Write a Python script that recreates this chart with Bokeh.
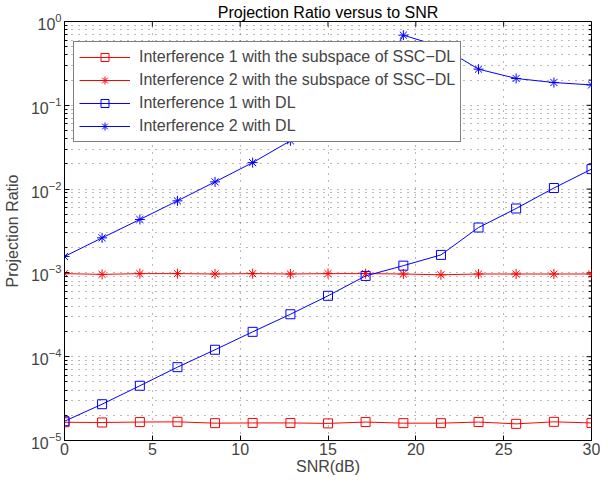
import math
from bokeh.plotting import figure
from bokeh.models import Range1d, Legend, LegendItem, FixedTicker
from bokeh.embed import file_html
from bokeh.resources import INLINE

# ---- data ----
snr = [0, 2.14, 4.29, 6.43, 8.57, 10.71, 12.86, 15, 17.14, 19.29, 21.43, 23.57, 25.71, 27.86, 30]
i1_ssc = [1.65e-5, 1.64e-5, 1.66e-5, 1.67e-5, 1.61e-5, 1.62e-5, 1.62e-5, 1.60e-5,
          1.66e-5, 1.61e-5, 1.61e-5, 1.66e-5, 1.58e-5, 1.67e-5, 1.62e-5]
i2_ssc = [9.8e-4, 9.6e-4, 9.8e-4, 9.8e-4, 9.7e-4, 9.8e-4, 9.7e-4, 9.8e-4,
          9.8e-4, 9.7e-4, 9.5e-4, 9.7e-4, 9.7e-4, 9.7e-4, 9.7e-4]
i1_dl = [1.7e-5, 2.71e-5, 4.5e-5, 7.5e-5, 1.21e-4, 1.98e-4, 3.21e-4, 5.33e-4,
         9.2e-4, 1.22e-3, 1.64e-3, 3.48e-3, 5.87e-3, 1.03e-2, 1.73e-2]
i2_dl = [1.57e-3, 2.62e-3, 4.34e-3, 7.24e-3, 1.22e-2, 2.07e-2, 3.77e-2, 6.7e-2,
         1.2e-1, 6.87e-1, 5.0e-1, 2.7e-1, 2.09e-1, 1.87e-1, 1.75e-1]
labels = ["Interference 1 with the subspace of SSC\u2212DL",
          "Interference 2 with the subspace of SSC\u2212DL",
          "Interference 1 with DL",
          "Interference 2 with DL"]
x_ticks = [0, 5, 10, 15, 20, 25, 30]
y_ticks = [1e-5, 1e-4, 1e-3, 1e-2, 1e-1, 1]
y_minor = [m * t for t in y_ticks[:-1] for m in range(2, 10)]
X_MIN, X_MAX = 0, 30
Y_MIN, Y_MAX = 1e-5, 1

FONT = "Liberation Sans"
FS = "16px"

p = figure(width=600, height=479, x_range=Range1d(X_MIN, X_MAX), y_range=Range1d(Y_MIN, Y_MAX),
           y_axis_type="log", output_backend="svg", toolbar_location=None,
           min_border_left=59, min_border_right=9, min_border_top=21, min_border_bottom=39,
           background_fill_color="white", border_fill_color="white")

p.title.text = "Projection Ratio versus to SNR"
p.title.align = "center"
p.title.text_font = FONT
p.title.text_font_size = FS
p.title.text_font_style = "normal"
p.title.text_color = "black"
p.title.standoff = 2

p.outline_line_color = "black"
p.outline_line_width = 1
p.outline_line_alpha = 1

xt = FixedTicker(ticks=x_ticks)
yt = FixedTicker(ticks=y_ticks, minor_ticks=y_minor)

ax = p.xaxis[0]
ax.ticker = xt
ax.major_tick_in = 5
ax.major_tick_out = 0
ax.minor_tick_line_color = None
ax.major_label_text_font = FONT
ax.major_label_text_font_size = FS
ax.major_label_standoff = 2
ax.axis_label = "SNR(dB)"
ax.axis_label_text_font = FONT
ax.axis_label_text_font_size = FS
ax.axis_label_text_font_style = "normal"
ax.axis_label_standoff = 0
ax.axis_line_color = "black"

ay = p.yaxis[0]
ay.ticker = yt
ay.major_tick_in = 5
ay.major_tick_out = 0
ay.minor_tick_in = 3
ay.minor_tick_out = 0
ay.major_label_text_font = FONT
ay.major_label_text_font_size = FS
ay.major_label_standoff = 3
ay.axis_label = "Projection Ratio"
ay.axis_label_text_font = FONT
ay.axis_label_text_font_size = FS
ay.axis_label_text_font_style = "normal"
ay.axis_label_standoff = 7
ay.axis_line_color = "black"

# dotted grids
p.xgrid.ticker = xt
p.ygrid.ticker = yt
for g in (p.xgrid, p.ygrid):
    g.grid_line_color = "black"
    g.grid_line_alpha = 0.55
    g.grid_line_dash = "1 6"
    g.grid_line_width = 1
p.ygrid.minor_grid_line_color = "black"
p.ygrid.minor_grid_line_alpha = 0.55
p.ygrid.minor_grid_line_dash = "1 6"

# mirrored inward ticks on the top and right edges (box on)
p.ray(x=x_ticks, y=[Y_MAX] * len(x_ticks), length=5, length_units="screen",
      angle=-math.pi / 2, line_color="black", line_width=1)
p.ray(x=[X_MAX] * len(y_ticks), y=y_ticks, length=5, length_units="screen",
      angle=math.pi, line_color="black", line_width=1)
p.ray(x=[X_MAX] * len(y_minor), y=y_minor, length=3, length_units="screen",
      angle=math.pi, line_color="black", line_width=1)

series = [(i1_ssc, "#ff0000", "square"), (i2_ssc, "#ff0000", "asterisk"),
          (i1_dl, "#0000ff", "square"), (i2_dl, "#0000ff", "asterisk")]
items = []
for (vals, col, mk), lab in zip(series, labels):
    r1 = p.line(snr, vals, line_color=col, line_width=1)
    size = 9 if mk == "square" else 10
    r2 = p.scatter(snr, vals, marker=mk, size=size, line_color=col, fill_color=None, line_width=1)
    items.append(LegendItem(label=lab, renderers=[r1, r2]))

legend = Legend(items=items, location=(9, 298), orientation="vertical",
                label_text_font=FONT, label_text_font_size=FS,
                padding=5, spacing=3, margin=0,
                glyph_width=51, glyph_height=20, label_height=20, label_standoff=9,
                border_line_color="black", border_line_width=1,
                background_fill_color="white", background_fill_alpha=1)
p.add_layout(legend)

open("out.html", "w").write(file_html(p, INLINE))
